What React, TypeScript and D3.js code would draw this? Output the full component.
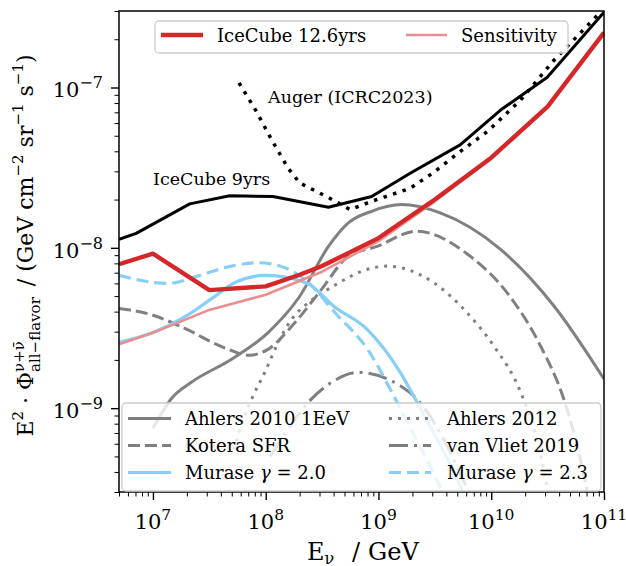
import React, { useEffect, useRef } from 'react';
import * as d3 from 'd3';

// IceCube 9yrs (black solid)
const ic9Energy = [5e6, 7.1e6, 2.12e7, 4.8e7, 1.16e8, 3.6e8, 8.7e8, 1.91e9, 5.3e9, 1.21e10, 3.14e10, 1e11];
const ic9Flux = [1.13e-8, 1.23e-8, 1.88e-8, 2.11e-8, 2.09e-8, 1.79e-8, 2.09e-8, 2.92e-8, 4.39e-8, 7.23e-8, 1.16e-7, 2.95e-7];

// Auger ICRC2023 (black dotted)
const augerEnergy = [5.8e7, 8.3e7, 1.13e8, 1.58e8, 2.0e8, 3.7e8, 5.6e8, 8.7e8, 1.91e9, 3.08e9, 5.3e9, 9.2e9, 1.82e10, 3.6e10, 9.3e10];
const augerFlux = [1.07e-7, 7.05e-8, 4.71e-8, 3.14e-8, 2.54e-8, 2.04e-8, 1.73e-8, 1.95e-8, 2.35e-8, 2.95e-8, 3.98e-8, 5.3e-8, 8.34e-8, 1.48e-7, 2.95e-7];

// IceCube 12.6yrs limit and sensitivity
const ic12Energy = [5e6, 1e7, 3.16e7, 1e8, 2e8, 3.16e8, 1e9, 3.16e9, 1e10, 3.16e10, 1e11];
const ic12Flux = [7.9e-9, 9.2e-9, 5.45e-9, 5.75e-9, 6.8e-9, 7.7e-9, 1.15e-8, 2.0e-8, 3.65e-8, 7.6e-8, 2.2e-7];
const sensEnergy = [5e6, 1e7, 3.16e7, 1e8, 3.16e8, 1e9, 3.16e9, 1e10, 3.16e10, 1e11];
const sensFlux = [2.5e-9, 2.95e-9, 4.1e-9, 5.1e-9, 7.1e-9, 1.1e-8, 1.95e-8, 3.6e-8, 7.55e-8, 2.2e-7];

// models
const ahlers10Energy = [1e7, 1.46e7, 2.19e7, 4.98e7, 1.05e8, 1.97e8, 3.6e8, 5.4e8, 8.7e8, 1.6e9, 3.53e9, 1.21e10, 3.6e10, 1e11];
const ahlers10Flux = [7.5e-10, 1.15e-9, 1.45e-9, 2.02e-9, 2.96e-9, 4.9e-9, 1.02e-8, 1.43e-8, 1.69e-8, 1.86e-8, 1.65e-8, 9.77e-9, 4.34e-9, 1.52e-9];

const koteraEnergy = [5e6, 9.3e6, 1.98e7, 3.92e7, 7.2e7, 1.02e8, 1.82e8, 3.14e8, 5.4e8, 9.7e8, 2.16e9, 6.5e9, 1.38e10, 2.73e10, 4.4e10, 5.6e10, 7.5e10];
const koteraFlux = [4.18e-9, 3.86e-9, 3.11e-9, 2.45e-9, 2.14e-9, 2.3e-9, 3.42e-9, 5.53e-9, 8.87e-9, 1.02e-8, 1.27e-8, 8.87e-9, 5.25e-9, 2.45e-9, 1.14e-9, 6.4e-10, 2.5e-10];

const ahlers12Energy = [5.2e7, 6.3e7, 7.75e7, 9.8e7, 1.29e8, 1.7e8, 2.39e8, 4e8, 7.9e8, 1.19e9, 3.08e9, 6.1e9, 1.05e10, 1.82e10, 2.6e10, 3.2e10];
const ahlers12Flux = [5.5e-10, 8.5e-10, 1.2e-9, 1.67e-9, 2.57e-9, 3.59e-9, 4.55e-9, 5.78e-9, 7.33e-9, 7.69e-9, 6.07e-9, 3.94e-9, 2.45e-9, 1.26e-9, 6e-10, 3e-10];

const vliet19Energy = [1.1e8, 1.6e8, 2.39e8, 3.85e8, 6.6e8, 1.56e9, 2.19e9, 3.16e9, 4.5e9, 6.3e9];
const vliet19Flux = [5e-10, 7.5e-10, 1.09e-9, 1.45e-9, 1.67e-9, 1.38e-9, 1.14e-9, 8e-10, 5e-10, 3e-10];

const murase20Energy = [5e6, 1e7, 1.98e7, 3.41e7, 5.3e7, 9.8e7, 1.58e8, 2.56e8, 3.99e8, 7.9e8, 1.56e9, 2.12e9, 2.8e9, 4e9, 5.6e9];
const murase20Flux = [2.57e-9, 2.96e-9, 3.76e-9, 4.89e-9, 6.07e-9, 6.73e-9, 6.52e-9, 5.78e-9, 4.34e-9, 3.11e-9, 1.67e-9, 1.14e-9, 7.9e-10, 5e-10, 3e-10];

const murase23Energy = [5e6, 1.36e7, 2.51e7, 4.34e7, 8.6e7, 1.48e8, 2.39e8, 4.12e8, 8.1e8, 1.36e9, 1.9e9, 2.8e9, 3.7e9];
const murase23Flux = [6.73e-9, 6.0e-9, 6.67e-9, 7.52e-9, 8.07e-9, 7.52e-9, 6.07e-9, 3.94e-9, 2.3e-9, 1.2e-9, 7.6e-10, 4.5e-10, 3e-10];

const xMajor = [1e7, 1e8, 1e9, 1e10, 1e11];
const xMajorExp = ['7', '8', '9', '10', '11'];
const yMajor = [1e-7, 1e-8, 1e-9];
const yMajorExp = ['−7', '−8', '−9'];

const FONT = '"DejaVu Serif", serif';

export default function App() {
  const ref = useRef<SVGSVGElement>(null);

  useEffect(() => {
    const width = 626;
    const height = 566;
    const left = 119, right = 604, top = 11, bottom = 492;

    const svg = d3.select(ref.current).attr('width', width).attr('height', height);
    svg.selectAll('*').remove();
    svg.append('rect').attr('width', width).attr('height', height).attr('fill', '#fff');

    const x = d3.scaleLog().domain([5e6, 1e11]).range([left, right]);
    const y = d3.scaleLog().domain([3e-10, 3e-7]).range([bottom, top]);

    svg.append('clipPath').attr('id', 'plot-clip')
      .append('rect').attr('x', left).attr('y', top).attr('width', right - left).attr('height', bottom - top);

    const zip = (es: number[], fs: number[]) => es.map((e, i) => [e, fs[i]] as [number, number]);
    const smooth = d3.line<[number, number]>().x((d) => x(d[0])).y((d) => y(d[1])).curve(d3.curveMonotoneX);
    const straight = d3.line<[number, number]>().x((d) => x(d[0])).y((d) => y(d[1]));

    const gray = '#808080';
    const blue = '#87cefa';
    const red = '#d62728';
    const pink = '#ec8d8d';

    const series = [
      { e: ahlers10Energy, f: ahlers10Flux, color: gray, w: 3, dash: null, gen: smooth },
      { e: koteraEnergy, f: koteraFlux, color: gray, w: 3, dash: '12,5', gen: smooth },
      { e: ahlers12Energy, f: ahlers12Flux, color: gray, w: 3, dash: '3,6', gen: smooth },
      { e: vliet19Energy, f: vliet19Flux, color: gray, w: 3, dash: '19,6,3,6', gen: smooth },
      { e: murase20Energy, f: murase20Flux, color: blue, w: 3.2, dash: null, gen: smooth },
      { e: murase23Energy, f: murase23Flux, color: blue, w: 3.2, dash: '12,6', gen: smooth },
      { e: augerEnergy, f: augerFlux, color: '#000', w: 3.5, dash: '3.5,6.5', gen: straight },
      { e: ic9Energy, f: ic9Flux, color: '#000', w: 3, dash: null, gen: straight },
      { e: sensEnergy, f: sensFlux, color: pink, w: 2.6, dash: null, gen: straight },
      { e: ic12Energy, f: ic12Flux, color: red, w: 4.3, dash: null, gen: straight },
    ];

    const plot = svg.append('g').attr('clip-path', 'url(#plot-clip)');
    series.forEach((s) => {
      plot.append('path')
        .attr('d', s.gen(zip(s.e, s.f)))
        .attr('fill', 'none')
        .attr('stroke', s.color)
        .attr('stroke-width', s.w)
        .attr('stroke-dasharray', s.dash)
        .attr('stroke-linejoin', 'round');
    });

    // Annotations
    svg.append('text').attr('x', 153).attr('y', 185).style('font-family', FONT).style('font-size', '17.5px').text('IceCube 9yrs');
    svg.append('text').attr('x', 268).attr('y', 103).style('font-family', FONT).style('font-size', '17.5px').text('Auger (ICRC2023)');

    // Minor ticks
    const xMinor: number[] = [];
    for (let k = 6; k <= 10; k++) for (let m = 2; m <= 9; m++) {
      const v = m * Math.pow(10, k);
      if (v >= 5e6 && v <= 1e11) xMinor.push(v);
    }
    const yMinor: number[] = [];
    for (let k = -10; k <= -7; k++) for (let m = 2; m <= 9; m++) {
      const v = m * Math.pow(10, k);
      if (v >= 3e-10 && v <= 3e-7) yMinor.push(v);
    }

    const xAxisMinor = svg.append('g').attr('transform', `translate(0,${bottom})`)
      .call(d3.axisBottom(x).tickValues(xMinor).tickSize(4.5).tickFormat(() => ''));
    const xAxisMajor = svg.append('g').attr('transform', `translate(0,${bottom})`)
      .call(d3.axisBottom(x).tickValues(xMajor).tickSize(8).tickFormat(() => ''));
    const yAxisMinor = svg.append('g').attr('transform', `translate(${left},0)`)
      .call(d3.axisLeft(y).tickValues(yMinor).tickSize(4.5).tickFormat(() => ''));
    const yAxisMajor = svg.append('g').attr('transform', `translate(${left},0)`)
      .call(d3.axisLeft(y).tickValues(yMajor).tickSize(8).tickFormat(() => ''));
    [xAxisMinor, xAxisMajor, yAxisMinor, yAxisMajor].forEach((g) => {
      g.select('.domain').remove();
      g.selectAll('line').attr('stroke', '#000');
    });
    xAxisMinor.selectAll('line').attr('stroke-width', 1);
    yAxisMinor.selectAll('line').attr('stroke-width', 1);
    xAxisMajor.selectAll('line').attr('stroke-width', 1.4);
    yAxisMajor.selectAll('line').attr('stroke-width', 1.4);

    // Tick labels
    xMajor.forEach((v, i) => {
      const t = svg.append('text').attr('x', x(v)).attr('y', 528.5).attr('text-anchor', 'middle')
        .style('font-family', FONT).style('font-size', '21px');
      t.append('tspan').text('10');
      t.append('tspan').attr('dy', -9).style('font-size', '15.5px').text(xMajorExp[i]);
    });
    yMajor.forEach((v, i) => {
      const t = svg.append('text').attr('x', 103).attr('y', y(v) + 10).attr('text-anchor', 'end')
        .style('font-family', FONT).style('font-size', '21px');
      t.append('tspan').text('10');
      t.append('tspan').attr('dy', -9).style('font-size', '16px').text(yMajorExp[i]);
    });

    // Frame
    svg.append('rect').attr('x', left).attr('y', top).attr('width', right - left).attr('height', bottom - top)
      .attr('fill', 'none').attr('stroke', '#000').attr('stroke-width', 1.5);

    // X label
    const xl = svg.append('text').attr('x', 307).attr('y', 560)
      .style('font-family', FONT).style('font-size', '24px');
    xl.append('tspan').text('E');
    xl.append('tspan').attr('dy', 4).style('font-size', '16px').text('ν');
    xl.append('tspan').attr('x', 352).attr('dy', -4).text('/');
    xl.append('tspan').attr('x', 368).text('GeV');

    // Y label
    const yl = svg.append('text').attr('transform', `translate(33,${(top + bottom) / 2 - 6}) rotate(-90)`)
      .attr('text-anchor', 'middle').style('font-family', FONT).style('font-size', '22px');
    const add = (t: string, dy = 0, size: string | null = null, dx = 0) =>
      yl.append('tspan').attr('dy', dy).attr('dx', dx).style('font-size', size).text(t);
    add('E');
    add('2', -10, '15px');
    add(' · Φ', 10);
    const sup = add('ν+ν̄', -9, '15px');
    const supW = (sup.node() as SVGTSpanElement).getComputedTextLength();
    add('all−flavor', 16, '15px', -supW);
    add('\u2002/ (GeV cm', -7);
    add('−2', -10, '15px');
    add(' sr', 10);
    add('−1', -10, '15px');
    add(' s', 10);
    add('−1', -10, '15px');
    add(')', 10);

    // Legends
    const legendBox = (lx: number, ly: number, lw: number, lh: number) =>
      svg.append('rect').attr('x', lx).attr('y', ly).attr('width', lw).attr('height', lh).attr('rx', 4)
        .attr('fill', '#fff').attr('fill-opacity', 0.8).attr('stroke', '#cccccc').attr('stroke-width', 1.3);

    const legendItem = (x1: number, x2: number, yy: number, color: string, w: number, dash: string | null, label: string, tx: number) => {
      svg.append('line').attr('x1', x1).attr('x2', x2).attr('y1', yy).attr('y2', yy)
        .attr('stroke', color).attr('stroke-width', w).attr('stroke-dasharray', dash);
      const t = svg.append('text').attr('x', tx).attr('y', yy + 6.5).style('font-family', FONT).style('font-size', '18px');
      return t.text(label);
    };

    legendBox(155, 21, 413, 32);
    legendItem(161, 203, 35, red, 4.3, null, 'IceCube 12.6yrs', 217);
    legendItem(406, 447, 35, pink, 2.6, null, 'Sensitivity', 461);

    legendBox(122, 403, 479, 88);
    legendItem(128, 171, 418.5, gray, 3, null, 'Ahlers 2010 1EeV', 185);
    legendItem(128, 171, 445.5, gray, 3, '12,5', 'Kotera SFR', 185);
    legendItem(128, 171, 472.5, blue, 3.2, null, '', 185);
    legendItem(389, 431, 418.5, gray, 3, '3,6', 'Ahlers 2012', 447);
    legendItem(389, 431, 445.5, gray, 3, '19,6,3,6', 'van Vliet 2019', 447);
    legendItem(389, 431, 472.5, blue, 3.2, '12,6', '', 447);

    const murase = (tx: number, gamma: string) => {
      const t = svg.append('text').attr('x', tx).attr('y', 479).style('font-family', FONT).style('font-size', '18px');
      t.append('tspan').text('Murase ');
      t.append('tspan').style('font-style', 'italic').text('γ');
      t.append('tspan').text(' = ' + gamma);
    };
    murase(185, '2.0');
    murase(447, '2.3');
  }, []);

  return <svg ref={ref} style={{ position: 'absolute', left: 0, top: 0, display: 'block' }} />;
}
